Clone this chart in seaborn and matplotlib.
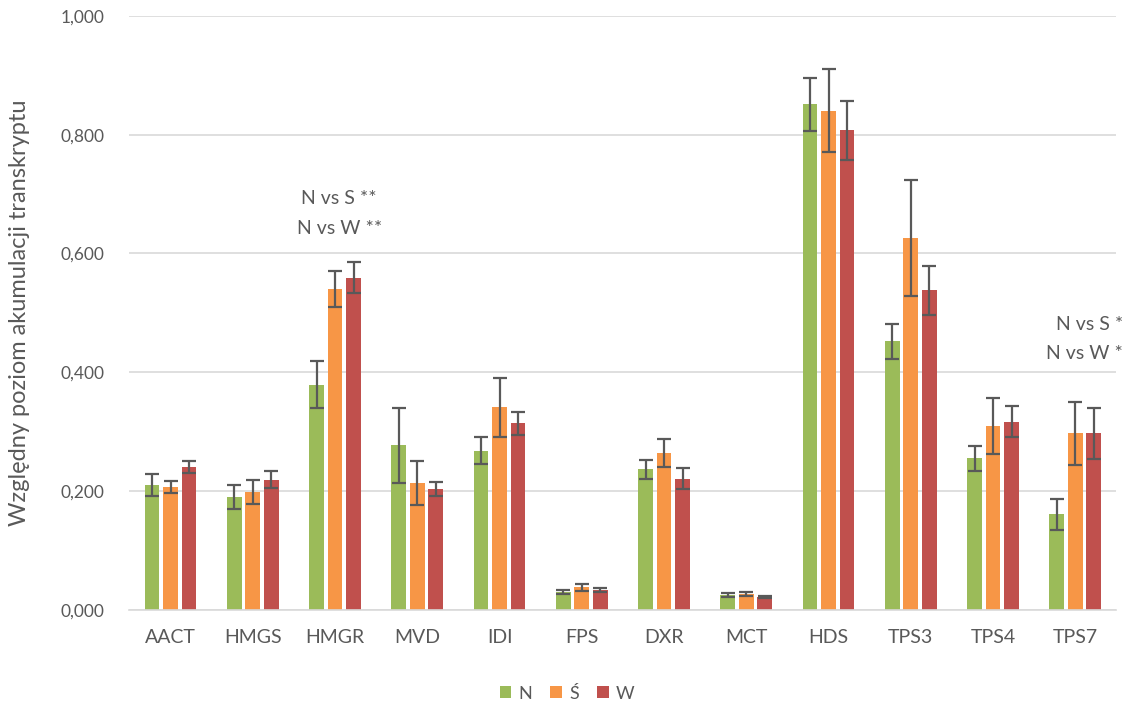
import numpy as np
import pandas as pd
import seaborn as sns
import matplotlib.pyplot as plt
from matplotlib.ticker import FuncFormatter, MultipleLocator

# Genes and experimental groups
genes = ["AACT", "HMGS", "HMGR", "MVD", "IDI", "FPS", "DXR", "MCT", "HDS", "TPS3", "TPS4", "TPS7"]
groups = ["N", "Ś", "W"]

# Mean relative transcript accumulation per group
mean_N = [0.210, 0.190, 0.379, 0.277, 0.268, 0.030, 0.237, 0.025, 0.851, 0.452, 0.255, 0.161]
mean_S = [0.207, 0.198, 0.540, 0.214, 0.341, 0.038, 0.264, 0.027, 0.840, 0.626, 0.309, 0.297]
mean_W = [0.240, 0.219, 0.559, 0.203, 0.314, 0.033, 0.221, 0.022, 0.807, 0.538, 0.317, 0.297]

# Error bar half-lengths
err_N = [0.018, 0.020, 0.040, 0.063, 0.023, 0.003, 0.016, 0.003, 0.045, 0.029, 0.021, 0.026]
err_S = [0.010, 0.020, 0.030, 0.037, 0.050, 0.006, 0.023, 0.003, 0.070, 0.098, 0.047, 0.053]
err_W = [0.010, 0.014, 0.026, 0.012, 0.019, 0.003, 0.018, 0.002, 0.049, 0.041, 0.026, 0.043]

colors = ["#9BBB59", "#F79646", "#C0504D"]
text_color = "#595959"

df = pd.DataFrame({
    "gen": genes * 3,
    "grupa": [g for g in groups for _ in genes],
    "wartosc": mean_N + mean_S + mean_W,
})
errors = [err_N, err_S, err_W]

sns.set_theme(style="white")
plt.rcParams["font.family"] = ["Lato", "DejaVu Sans"]

fig = plt.figure(figsize=(11.3, 7.05), dpi=100)
ax = fig.add_axes([0.1145, 0.135, 0.8735, 0.8425])

sns.barplot(data=df, x="gen", y="wartosc", hue="grupa", hue_order=groups,
            order=genes, palette=colors, width=0.675, gap=0.2,
            errorbar=None, linewidth=0, saturation=1, ax=ax)

# Error bars placed on the drawn bars
for cont, err in zip(ax.containers, errors):
    xs = [p.get_x() + p.get_width() / 2 for p in cont]
    hs = [p.get_height() for p in cont]
    ax.errorbar(xs, hs, yerr=err, fmt="none", ecolor="#595959",
                elinewidth=1.6, capsize=5, capthick=1.6, zorder=5)

ax.set_ylim(0, 1.0)
ax.set_xlim(-0.5, len(genes) - 0.5)
ax.yaxis.set_major_locator(MultipleLocator(0.2))
ax.yaxis.set_major_formatter(FuncFormatter(lambda v, p: f"{v:.3f}".replace(".", ",")))
ax.grid(axis="y", color="#D9D9D9", linewidth=1.2)
ax.set_axisbelow(True)
for s in ["top", "right", "left"]:
    ax.spines[s].set_visible(False)
ax.spines["bottom"].set_color("#D9D9D9")
ax.spines["bottom"].set_linewidth(1.2)
ax.tick_params(axis="x", length=0, labelsize=14, colors=text_color, pad=14)
ax.tick_params(axis="y", length=0, labelsize=12.5, colors=text_color, pad=18)

ax.set_xlabel("")
ax.set_ylabel("Względny poziom akumulacji transkryptu", fontsize=17,
              color=text_color, labelpad=22)

# Significance notes
note_kw = dict(fontsize=14, color=text_color, va="center")
ax.text(2.05, 0.692, "N vs S **", ha="center", **note_kw)
ax.text(2.05, 0.642, "N vs W **", ha="center", **note_kw)
ax.text(11.58, 0.481, "N vs S *", ha="right", clip_on=False, **note_kw)
ax.text(11.58, 0.432, "N vs W *", ha="right", clip_on=False, **note_kw)

handles, labels = ax.get_legend_handles_labels()
ax.get_legend().remove()
fig.legend(handles, labels, loc="center", bbox_to_anchor=(0.502, 0.016), ncol=3,
           frameon=False, handlelength=0.65, handleheight=0.65, handletextpad=0.4,
           columnspacing=1.0, fontsize=13, labelcolor=text_color)

fig.savefig("out.png", dpi=100)
